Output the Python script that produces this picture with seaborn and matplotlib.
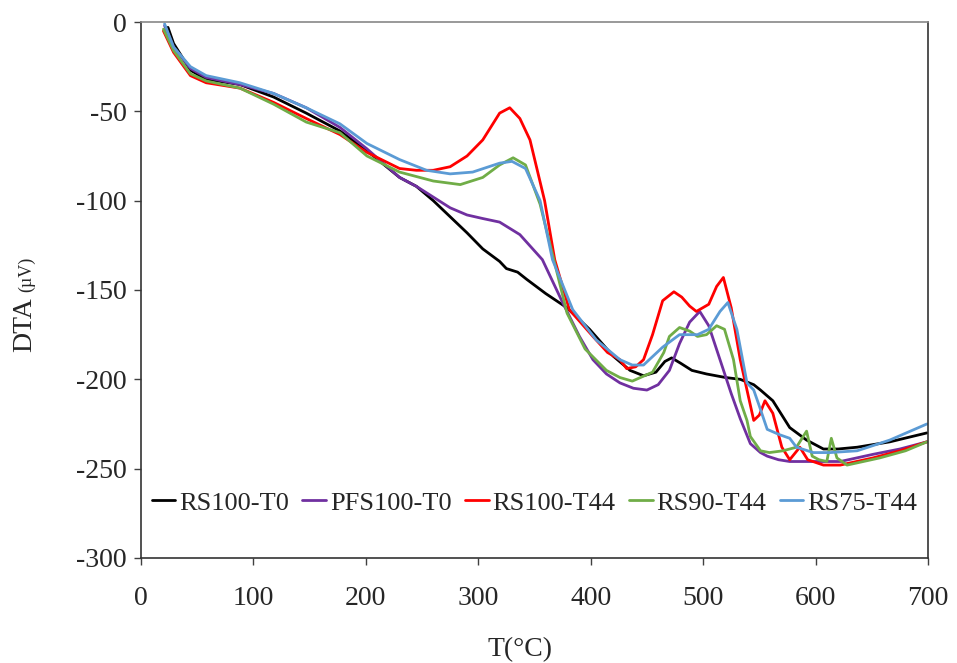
import numpy as np
import pandas as pd
import matplotlib.pyplot as plt
import seaborn as sns

# DTA curves (T in °C, DTA in µV)
t_rs100_t0 = [24, 29, 44, 58, 88, 118, 147, 177, 201, 230, 245, 260, 275, 290, 304, 319, 325, 335, 343, 360,
              379, 399, 420, 435, 447, 458, 466, 472, 480, 490, 503, 520, 533, 545, 551, 562, 570, 577, 592,
              607, 620, 637, 666, 699]
dta_rs100_t0 = [-3, -12, -27, -32, -35, -42, -51, -61, -72, -87, -92, -100, -109, -118, -127, -134, -138, -140,
                -144, -152, -160, -172, -187, -195, -198, -196, -190, -188, -191, -195, -197, -199, -200, -203,
                -206, -212, -220, -227, -234, -239, -239, -238, -235, -230]

t_pfs100_t0 = [21, 29, 44, 58, 88, 118, 147, 177, 201, 230, 245, 260, 275, 290, 304, 319, 337, 357, 375, 390,
               402, 414, 426, 438, 450, 460, 470, 479, 488, 497, 505, 515, 525, 533, 542, 551, 557, 567, 577,
               600, 622, 651, 675, 699]
dta_pfs100_t0 = [-2, -14, -26, -31, -35, -40, -48, -59, -71, -87, -92, -98, -104, -108, -110, -112, -119, -133,
                 -157, -176, -189, -197, -202, -205, -206, -203, -195, -180, -168, -162, -170, -189, -208, -222,
                 -236, -241, -243, -245, -246, -246, -246, -242, -239, -235]

t_rs100_t44 = [20, 29, 44, 58, 88, 118, 147, 177, 201, 230, 245, 260, 275, 290, 304, 319, 328, 337, 346, 359,
               368, 381, 402, 415, 426, 432, 440, 447, 455, 464, 474, 481, 488, 494, 505, 512, 518, 525, 533,
               539, 545, 550, 555, 562, 570, 577, 586, 593, 607, 622, 651, 675, 699]
dta_rs100_t44 = [-5, -17, -30, -34, -37, -45, -54, -63, -73, -82, -83, -83, -81, -75, -66, -51, -48, -54, -66,
                 -100, -133, -161, -176, -185, -189, -194, -193, -189, -175, -156, -151, -154, -159, -162, -158,
                 -148, -143, -160, -189, -206, -223, -220, -212, -219, -238, -245, -238, -245, -248, -248, -244,
                 -240, -235]

t_rs90_t44 = [20, 29, 44, 58, 88, 118, 147, 177, 201, 230, 260, 284, 304, 319, 331, 342, 355, 366, 379, 395,
              414, 426, 437, 455, 465, 470, 479, 488, 495, 503, 512, 519, 527, 533, 539, 542, 551, 559, 571,
              583, 592, 597, 603, 610, 614, 619, 628, 657, 680, 699]
dta_rs90_t44 = [-4, -16, -29, -33, -37, -46, -56, -62, -75, -84, -89, -91, -87, -80, -76, -80, -102, -130,
                -163, -183, -195, -199, -201, -196, -185, -176, -171, -173, -176, -175, -170, -172, -189, -212,
                -223, -232, -240, -241, -240, -238, -229, -243, -245, -246, -233, -244, -248, -244, -240, -235]

t_rs75_t44 = [21, 29, 44, 58, 88, 118, 147, 177, 201, 230, 254, 275, 295, 319, 330, 342, 355, 366, 384, 405,
              426, 437, 447, 464, 479, 495, 505, 515, 522, 530, 539, 545, 550, 557, 568, 577, 583, 598, 613,
              637, 666, 699]
dta_rs75_t44 = [-1, -14, -25, -30, -34, -40, -48, -57, -68, -77, -83, -85, -84, -79, -78, -82, -100, -133,
                -161, -178, -189, -192, -192, -182, -175, -175, -172, -162, -157, -172, -202, -206, -215, -228,
                -231, -233, -238, -241, -241, -240, -234, -225]

series = ["RS100-T0", "PFS100-T0", "RS100-T44", "RS90-T44", "RS75-T44"]
colors = ["#000000", "#7030A0", "#FF0000", "#70AD47", "#5B9BD5"]

temps = [t_rs100_t0, t_pfs100_t0, t_rs100_t44, t_rs90_t44, t_rs75_t44]
dtas = [dta_rs100_t0, dta_pfs100_t0, dta_rs100_t44, dta_rs90_t44, dta_rs75_t44]

frames = []
for name, t, d in zip(series, temps, dtas):
    frames.append(pd.DataFrame({"T": t, "DTA": d, "sample": name}))
df = pd.concat(frames, ignore_index=True)

sns.set_style("white")
plt.rcParams["font.family"] = ["Liberation Serif", "DejaVu Serif"]
plt.rcParams["axes.unicode_minus"] = False

fig = plt.figure(figsize=(9.57, 6.63), dpi=100)
ax = fig.add_axes([0.1473, 0.1584, 0.8224, 0.8084])

sns.lineplot(data=df, x="T", y="DTA", hue="sample", hue_order=series,
             palette=dict(zip(series, colors)), sort=False, estimator=None,
             linewidth=2.0, ax=ax)

ax.set_xlim(0, 700)
ax.set_ylim(-300, 0)
ax.set_xticks(np.arange(0, 701, 100))
ax.set_yticks(np.arange(-300, 1, 50))
ax.tick_params(axis="x", direction="out", length=5, width=1, color="#404040",
               labelsize=20, pad=15, bottom=True)
ax.tick_params(axis="y", direction="out", length=5, width=1, color="#404040",
               labelsize=20, pad=5, left=True)

for side in ["left", "bottom", "right"]:
    ax.spines[side].set_color("#333333")
    ax.spines[side].set_linewidth(1.2)
ax.spines["top"].set_color("#888888")
ax.spines["top"].set_linewidth(1.2)

ax.set_xlabel("")
ax.set_ylabel("")
fig.text(520 / 957, 1 - 650 / 663, "T(°C)", ha="center", va="center", fontsize=20)
fig.text(25 / 957, 1 - 325 / 663, "DTA", rotation=90, ha="center", va="center", fontsize=20)
fig.text(27 / 957, 1 - 274 / 663, "(µV)", rotation=90, ha="center", va="center", fontsize=13)

handles, labels = ax.get_legend_handles_labels()
ax.legend(handles, labels, loc="center", bbox_to_anchor=(0.5, 0.103), ncol=5,
          frameon=False, fontsize=19, handlelength=0.9, handletextpad=0.15,
          columnspacing=0.5, borderpad=0.1)

fig.savefig("out.png", dpi=100)
